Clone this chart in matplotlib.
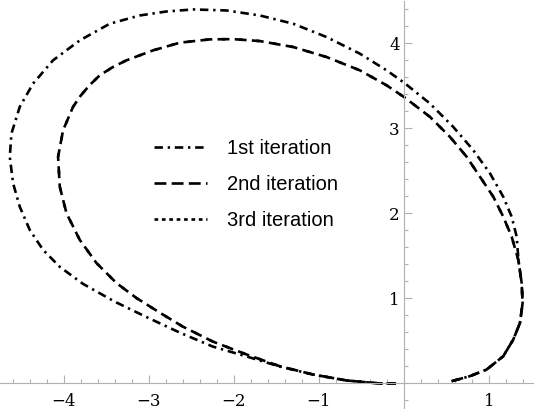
"""Three iterations of a closed trajectory, Mathematica-style axes through the origin."""

import matplotlib
matplotlib.use("Agg")
import matplotlib.pyplot as plt
from matplotlib.lines import Line2D
from matplotlib.ticker import MultipleLocator, FixedLocator

# points (x, y in data units)
# the three iterations share the lower right arc
shared_x = [0.561, 0.776, 0.973, 1.168, 1.286, 1.365, 1.396, 1.385]
shared_y = [0.027, 0.086, 0.164, 0.320, 0.516, 0.712, 0.947, 1.181]

iter1_x = shared_x + [1.347, 1.326, 1.267, 1.168, 1.012, 0.815, 0.580, 0.306, 0.000,
                      -0.204, -0.518, -0.909, -1.302, -1.694, -2.086, -2.479, -2.792,
                      -3.106, -3.459, -3.812, -4.126, -4.361, -4.518, -4.615, -4.635,
                      -4.596, -4.518, -4.400, -4.244, -4.047, -3.776, -3.400, -3.012,
                      -2.635, -2.247, -1.847, -1.459, -1.071, -0.671, -0.282, -0.129]
iter1_y = shared_y + [1.455, 1.728, 1.962, 2.197, 2.472, 2.745, 3.018, 3.293, 3.539,
                      3.683, 3.879, 4.074, 4.231, 4.328, 4.387, 4.399, 4.375,
                      4.328, 4.231, 4.035, 3.801, 3.527, 3.253, 2.941, 2.666,
                      2.354, 2.080, 1.806, 1.572, 1.372, 1.173, 0.962, 0.774,
                      0.598, 0.434, 0.317, 0.199, 0.106, 0.035, 0.000, 0.000]

iter2_x = shared_x + [1.345, 1.267, 1.168, 1.051, 0.894, 0.738, 0.541, 0.306, 0.000,
                      -0.204, -0.518, -0.909, -1.302, -1.694, -2.008, -2.282, -2.635,
                      -2.949, -3.262, -3.420, -3.576, -3.700, -3.805, -3.891, -4.008,
                      -4.067, -4.047, -3.968, -3.812, -3.615, -3.380, -3.145, -2.871,
                      -2.600, -2.247, -1.847, -1.459, -1.071, -0.671, -0.282, -0.094]
iter2_y = shared_y + [1.455, 1.728, 1.962, 2.197, 2.432, 2.666, 2.901, 3.136, 3.370,
                      3.507, 3.683, 3.839, 3.957, 4.027, 4.050, 4.047, 4.008,
                      3.918, 3.801, 3.723, 3.625, 3.505, 3.380, 3.253, 2.979,
                      2.666, 2.314, 2.002, 1.689, 1.416, 1.181, 1.005, 0.833,
                      0.669, 0.493, 0.340, 0.203, 0.106, 0.035, 0.000, 0.000]

# the 3rd iteration lies on top of the 2nd
iter3_x = list(iter2_x)
iter3_y = list(iter2_y)

labels = ["1st iteration", "2nd iteration", "3rd iteration"]
x_ticks = [-4, -3, -2, -1, 1]
x_ticklabels = ["\u22124", "\u22123", "\u22122", "\u22121", "1"]
y_ticks = [1, 2, 3, 4]

fig = plt.figure(figsize=(5.34, 4.09), dpi=100)
ax = fig.add_axes([0, 0, 1, 1])

lw = 1.9
style1 = (0, (3.2, 1.8, 0.9, 1.8))
style2 = (0, (4.5, 2.0))
style3 = (0, (1.4, 1.4))
ax.plot(iter1_x, iter1_y, color="black", lw=lw, ls=style1)
ax.plot(iter2_x, iter2_y, color="black", lw=lw, ls=style2)
# same path as the 2nd curve: its dots sit inside the dashes, as in the original
ax.plot(iter3_x, iter3_y, color="black", lw=lw, ls=(5.0, (1.4, 5.1)))

ax.set_xlim(-4.75, 1.53)
ax.set_ylim(-0.29, 4.5)
ax.set_aspect("equal")

# axes through the origin
for side in ("top", "right"):
    ax.spines[side].set_visible(False)
ax.spines["left"].set_position(("data", 0))
ax.spines["bottom"].set_position(("data", 0))
for side in ("left", "bottom"):
    ax.spines[side].set_color("#b0b0b0")
    ax.spines[side].set_linewidth(0.8)

ax.xaxis.set_major_locator(FixedLocator(x_ticks))
ax.yaxis.set_major_locator(FixedLocator(y_ticks))
ax.xaxis.set_minor_locator(MultipleLocator(0.2))
ax.yaxis.set_minor_locator(MultipleLocator(0.2))
ax.tick_params(which="both", direction="in", color="#b0b0b0", width=0.8)
ax.tick_params(which="major", length=6)
ax.tick_params(which="minor", length=3)
ax.tick_params(axis="x", which="major", labelsize=12, pad=7)
ax.tick_params(axis="y", which="major", labelsize=12, pad=3)
ax.set_xticklabels(x_ticklabels)
for lab in ax.get_xticklabels() + ax.get_yticklabels():
    lab.set_family("DejaVu Serif")

handles = [Line2D([], [], color="black", lw=lw, ls=s) for s in (style1, style2, style3)]
ax.legend(handles, labels, loc="upper left", bbox_to_anchor=(0.255, 0.705), frameon=False,
          prop={"family": "Liberation Sans", "size": 14.5},
          handlelength=2.6, handletextpad=1.0, labelspacing=0.85)

fig.savefig("out.png", dpi=100)
